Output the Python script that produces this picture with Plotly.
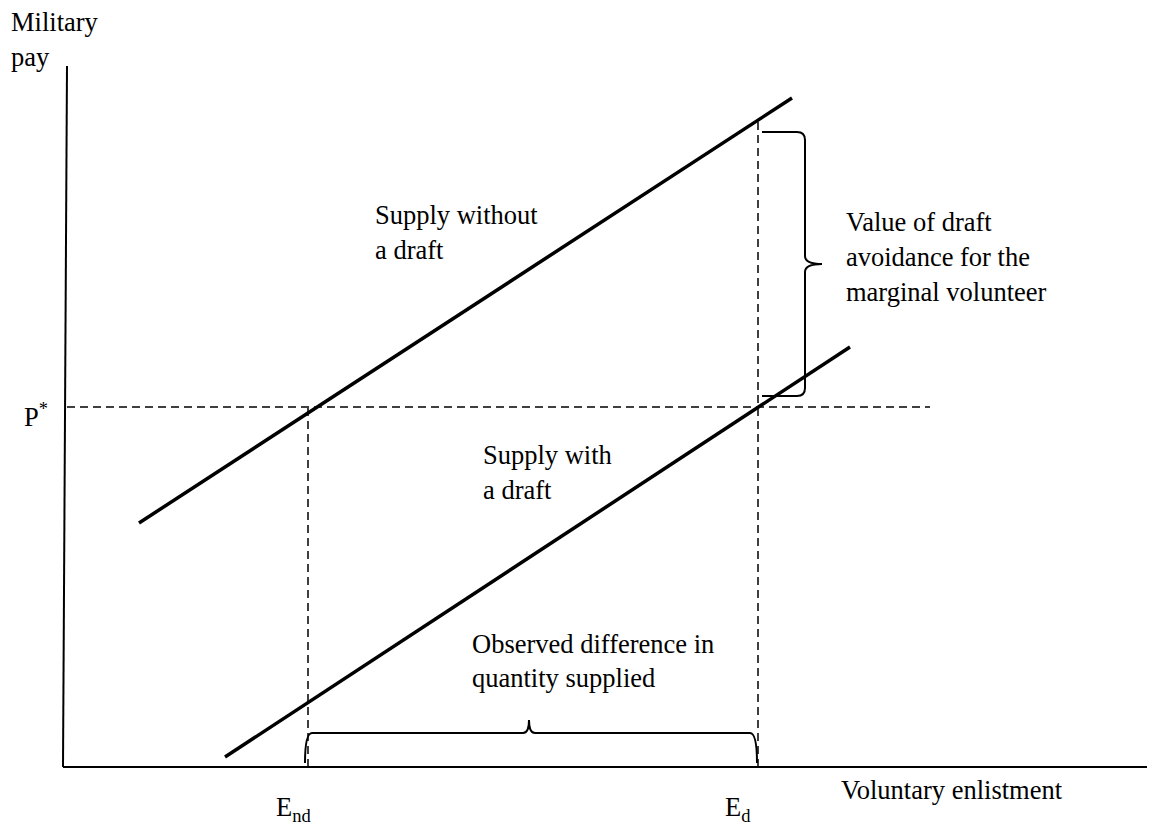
import plotly.graph_objects as go

# ---- data (schematic units: enlistment on x, pay on y; origin at axis corner) ----
supply_no_draft_x = [74, 727]
supply_no_draft_y = [244, 669]
supply_draft_x = [160, 785]
supply_draft_y = [10, 420]
p_star = 360
e_nd = 243
e_d = 693
e_d_top = 647          # where E_d meets the no-draft supply curve
p_line_end = 865
x_axis_end = 1090
y_axis_top = 701

labels_no_draft = ["Supply without", "a draft"]
labels_draft = ["Supply with", "a draft"]
labels_value = ["Value of draft", "avoidance for the", "marginal volunteer"]
labels_diff = ["Observed difference in", "quantity supplied"]

FONT = dict(family="Liberation Serif, Times New Roman, serif", size=26.5, color="black")

fig = go.Figure()

# axes
fig.add_trace(go.Scatter(x=[2, -2], y=[y_axis_top, 0], mode="lines",
                         line=dict(color="black", width=2), hoverinfo="skip"))
fig.add_trace(go.Scatter(x=[-2, x_axis_end], y=[0, 0], mode="lines",
                         line=dict(color="black", width=2), hoverinfo="skip"))

# supply curves
fig.add_trace(go.Scatter(x=supply_no_draft_x, y=supply_no_draft_y, mode="lines",
                         line=dict(color="black", width=3.5), hoverinfo="skip"))
fig.add_trace(go.Scatter(x=supply_draft_x, y=supply_draft_y, mode="lines",
                         line=dict(color="black", width=3.5), hoverinfo="skip"))

# dashed guides
dash = dict(color="black", width=1.5, dash="8px,5px")
fig.add_trace(go.Scatter(x=[2, p_line_end], y=[p_star, p_star], mode="lines",
                         line=dash, hoverinfo="skip"))
fig.add_trace(go.Scatter(x=[e_nd, e_nd], y=[0, p_star], mode="lines",
                         line=dash, hoverinfo="skip"))
fig.add_trace(go.Scatter(x=[e_d, e_d], y=[0, e_d_top], mode="lines",
                         line=dash, hoverinfo="skip"))


def vbrace(x0, xm, xt, y_lo, y_hi, r=8, rt=8):
    ym = (y_lo + y_hi) / 2
    return (f"M {x0},{y_hi} L {xm-r},{y_hi} Q {xm},{y_hi} {xm},{y_hi-r} "
            f"L {xm},{ym+rt} Q {xm},{ym} {xt},{ym} Q {xm},{ym} {xm},{ym-rt} "
            f"L {xm},{y_lo+r} Q {xm},{y_lo} {xm-r},{y_lo} L {x0},{y_lo}")


def hbrace(x_lo, x_hi, xm, y0, ym, yt, r=7, rt=6):
    return (f"M {x_lo},{y0} Q {x_lo},{ym} {x_lo+r},{ym} "
            f"L {xm-rt},{ym} Q {xm},{ym} {xm},{yt} Q {xm},{ym} {xm+rt},{ym} "
            f"L {x_hi-r},{ym} Q {x_hi},{ym} {x_hi},{y0}")


# right brace: between P* and the no-draft curve at E_d
fig.add_shape(type="path", xref="x", yref="y",
              path=vbrace(e_d + 4, e_d + 47, e_d + 64, p_star + 11, e_d_top - 12),
              line=dict(color="black", width=2))
# bottom brace: between E_nd and E_d
fig.add_shape(type="path", xref="x", yref="y",
              path=hbrace(e_nd - 3, e_d - 1, (e_nd + e_d) / 2 - 4, 4, 34, 47),
              line=dict(color="black", width=2))

ann = []


def add_lines(lines, x, y_first, step=35):
    for i, t in enumerate(lines):
        ann.append(dict(x=x, y=y_first - i * step, text=t, showarrow=False,
                        xanchor="left", yanchor="middle", font=FONT))


add_lines(["Military", "pay"], -56, 745)
add_lines(labels_no_draft, 308, 552)
add_lines(labels_value, 779, 545)
add_lines(labels_draft, 416, 312)
add_lines(labels_diff, 405, 123, step=34)
add_lines(["Voluntary enlistment"], 774, -23)
ann.append(dict(x=-43, y=p_star - 8, text="P<sup>*</sup>", showarrow=False,
                xanchor="left", yanchor="middle", font=FONT))
ann.append(dict(x=e_nd - 34, y=-42, text="E<sub>nd</sub>", showarrow=False,
                xanchor="left", yanchor="middle", font=FONT))
ann.append(dict(x=e_d - 35, y=-42, text="E<sub>d</sub>", showarrow=False,
                xanchor="left", yanchor="middle", font=FONT))

# the page body has an 8px margin, so the figure is 8px smaller and ranges shifted
fig.update_layout(
    width=1147, height=821,
    margin=dict(l=0, r=0, t=0, b=0),
    paper_bgcolor="white", plot_bgcolor="white",
    showlegend=False,
    xaxis=dict(range=[-57, 1090], visible=False, fixedrange=True),
    yaxis=dict(range=[-62, 759], visible=False, fixedrange=True),
    annotations=ann,
)

fig.write_html("out.html")
